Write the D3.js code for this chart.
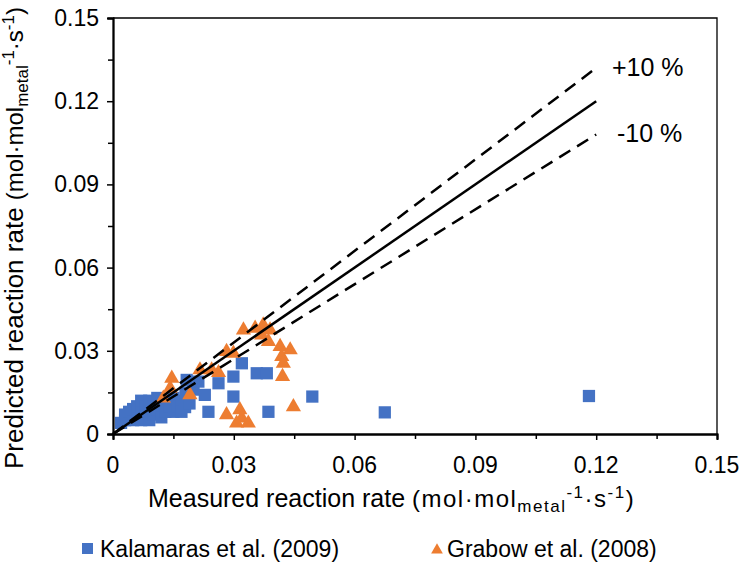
<!DOCTYPE html>
<html>
<head>
<meta charset="utf-8">
<script src="https://cdn.jsdelivr.net/npm/d3@7/dist/d3.min.js"></script>
<style>
  html, body { margin: 0; padding: 0; background: #fff; }
  svg text { font-family: "Liberation Sans", Arial, sans-serif; fill: #000; }
</style>
</head>
<body>
<svg id="chart" width="745" height="570"></svg>
<script>
// Tick values shared by both axes
const majorTicks = [0, 0.03, 0.06, 0.09, 0.12, 0.15];
const minorTicks = [0.015, 0.045, 0.075, 0.105, 0.135];
const tickLabels = ["0", "0.03", "0.06", "0.09", "0.12", "0.15"];

// Kalamaras et al. (2009): measured vs predicted rate
const kalMeasured = [0.002, 0.003, 0.003, 0.004, 0.004, 0.005, 0.005, 0.005, 0.006, 0.006,
  0.007, 0.007, 0.007, 0.008, 0.008, 0.009, 0.009, 0.009, 0.010, 0.010,
  0.011, 0.011, 0.012, 0.012, 0.013, 0.013, 0.014, 0.015, 0.015, 0.016,
  0.017, 0.017, 0.018, 0.0183, 0.0179, 0.019, 0.020, 0.0212, 0.0228, 0.0237,
  0.0262, 0.0299, 0.0299, 0.0320, 0.0357, 0.0382, 0.0386, 0.0495, 0.0675, 0.1182];
const kalPredicted = [0.004, 0.005, 0.007, 0.006, 0.008, 0.005, 0.007, 0.009, 0.006, 0.010,
  0.005, 0.008, 0.012, 0.006, 0.010, 0.005, 0.008, 0.012, 0.007, 0.010,
  0.009, 0.013, 0.006, 0.011, 0.008, 0.012, 0.010, 0.008, 0.013, 0.010,
  0.012, 0.008, 0.015, 0.0195, 0.0097, 0.011, 0.016, 0.0189, 0.0141, 0.008,
  0.0183, 0.0207, 0.0135, 0.0255, 0.0219, 0.0219, 0.008, 0.0135, 0.0078, 0.0137];

// Grabow et al. (2008): measured vs predicted rate
const grabMeasured = [0.0125, 0.0142, 0.0146, 0.0191, 0.0216, 0.0245, 0.0262, 0.0282, 0.0299, 0.0324,
  0.0353, 0.0373, 0.0390, 0.0369, 0.0386, 0.0415, 0.0440, 0.0419, 0.0423, 0.0421,
  0.0448, 0.0282, 0.0315, 0.0320, 0.0307, 0.0336];
const grabPredicted = [0.0129, 0.0165, 0.0201, 0.0141, 0.0231, 0.0231, 0.0221, 0.0297, 0.0291, 0.0375,
  0.0381, 0.0393, 0.0375, 0.0357, 0.0333, 0.0315, 0.0303, 0.0279, 0.0255, 0.0207,
  0.0098, 0.0069, 0.0087, 0.0057, 0.0039, 0.0039];

// Parity line and ±10 % band, drawn up to this measured rate
const parityEnd = 0.12;
const bandFactors = [1.1, 1.0, 0.9];

const svg = d3.select("#chart");
const x = d3.scaleLinear().domain([0, 0.15]).range([113, 717]);
const y = d3.scaleLinear().domain([0, 0.15]).range([434, 18]);

const blue = "#4472C4";
const orange = "#ED7D31";

// Frame (top and right edges)
svg.append("path")
  .attr("d", `M${x(0)},${y(0.15)}H${x(0.15)}V${y(0)}`)
  .attr("fill", "none").attr("stroke", "#000").attr("stroke-width", 1.3);

// Axes
const xAxis = svg.append("g").attr("transform", `translate(0,${y(0)})`);
xAxis.call(d3.axisBottom(x).tickValues(majorTicks).tickSize(6).tickFormat(""));
xAxis.append("g").call(d3.axisBottom(x).tickValues(minorTicks).tickSize(5).tickFormat(""));
xAxis.selectAll(".domain").attr("stroke-width", 1.8);
xAxis.selectAll(".tick line").attr("stroke-width", 1.5);

const yAxis = svg.append("g").attr("transform", `translate(${x(0)},0)`);
yAxis.call(d3.axisLeft(y).tickValues(majorTicks).tickSize(6).tickFormat(""));
yAxis.append("g").call(d3.axisLeft(y).tickValues(minorTicks).tickSize(5).tickFormat(""));
yAxis.selectAll(".domain").attr("stroke-width", 1.8);
yAxis.selectAll(".tick line").attr("stroke-width", 1.5);

// Tick labels
svg.append("g").selectAll("text").data(majorTicks).join("text")
  .attr("x", d => x(d)).attr("y", 473)
  .attr("text-anchor", "middle").attr("font-size", 23)
  .text((d, i) => tickLabels[i]);
svg.append("g").selectAll("text").data(majorTicks).join("text")
  .attr("x", 99).attr("y", d => y(d) + 8)
  .attr("text-anchor", "end").attr("font-size", 23)
  .text((d, i) => tickLabels[i]);

// Markers
const squareSym = d3.symbol().type(d3.symbolSquare).size(150);
const triSym = d3.symbol().type(d3.symbolTriangle).size(100);

svg.append("g").selectAll("path").data(kalMeasured).join("path")
  .attr("d", squareSym)
  .attr("transform", (d, i) => `translate(${x(d)},${y(kalPredicted[i])})`)
  .attr("fill", blue);

svg.append("g").selectAll("path").data(grabMeasured).join("path")
  .attr("d", triSym)
  .attr("transform", (d, i) => `translate(${x(d)},${y(grabPredicted[i])})`)
  .attr("fill", orange);

// Parity line and ±10 % lines
const line = d3.line().x(d => x(d[0])).y(d => y(d[1]));
svg.append("g").selectAll("path").data(bandFactors).join("path")
  .attr("d", f => line([[0, 0], [parityEnd, parityEnd * f]]))
  .attr("fill", "none").attr("stroke", "#000").attr("stroke-width", 2.5)
  .attr("stroke-dasharray", f => f === 1 ? null : "13,8");

svg.append("text").attr("x", 612).attr("y", 76).attr("font-size", 25).text("+10 %");
svg.append("text").attr("x", 617).attr("y", 142).attr("font-size", 25).text("-10 %");

// Axis titles with unit sub/superscripts
function unitTitle(sel, spacing) {
  const g = sel.append("tspan").attr("letter-spacing", spacing);
  g.append("tspan").attr("font-size", 24).text("(mol·mol");
  g.append("tspan").attr("font-size", 17).attr("dy", 5).text("metal");
  g.append("tspan").attr("font-size", 17).attr("dy", -14).text("-1");
  g.append("tspan").attr("font-size", 24).attr("dy", 9).text("·s");
  g.append("tspan").attr("font-size", 17).attr("dy", -9).text("-1");
  g.append("tspan").attr("font-size", 24).attr("dy", 9).text(")");
}

const xt = svg.append("text").attr("x", 148).attr("y", 507);
xt.append("tspan").attr("font-size", 25).text("Measured reaction rate ");
unitTitle(xt, 1.5);

const yt = svg.append("text").attr("transform", "translate(23,238) rotate(-90)").attr("text-anchor", "middle");
yt.append("tspan").attr("font-size", 26).text("Predicted reaction rate ");
unitTitle(yt, 0);

// Legend
const legend = svg.append("g");
legend.append("rect").attr("x", 82).attr("y", 543).attr("width", 11).attr("height", 11).attr("fill", blue);
legend.append("text").attr("x", 100).attr("y", 557).attr("font-size", 23).text("Kalamaras et al. (2009)");
legend.append("path").attr("d", d3.symbol().type(d3.symbolTriangle).size(60)())
  .attr("transform", "translate(437,550)").attr("fill", orange);
legend.append("text").attr("x", 447).attr("y", 557).attr("font-size", 23).text("Grabow et al. (2008)");
</script>
</body>
</html>
